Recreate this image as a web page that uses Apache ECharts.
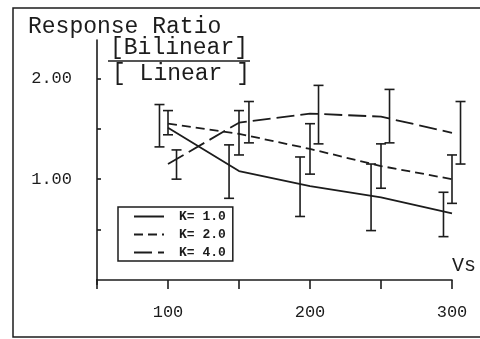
<!DOCTYPE html>
<html>
<head>
<meta charset="utf-8">
<script src="https://cdn.jsdelivr.net/npm/echarts@6/dist/echarts.min.js"></script>
<style>
  html, body { margin: 0; padding: 0; background: #fff; }
  #main { width: 480px; height: 339px; }
</style>
</head>
<body>
<div id="main"></div>
<script>
// Vs values where the curves are drawn
const vs = [100, 150, 200, 250, 300]

// response ratio curves
const k1 = [1.51, 1.08, 0.93, 0.82, 0.66]
const k2 = [1.55, 1.45, 1.30, 1.13, 1.00]
const k4 = [1.15, 1.56, 1.65, 1.62, 1.46]

// error bars (slightly shifted along Vs per curve, as in the plot)
const k1BarX = [94, 143, 193, 243, 294]
const k1Low = [1.32, 0.81, 0.63, 0.49, 0.43]
const k1High = [1.74, 1.34, 1.22, 1.15, 0.87]

const k2BarX = [100, 150, 200, 250, 300]
const k2Low = [1.44, 1.24, 1.05, 0.91, 0.76]
const k2High = [1.68, 1.68, 1.55, 1.35, 1.24]

const k4BarX = [106, 157, 206, 256, 306]
const k4Low = [1.00, 1.36, 1.35, 1.36, 1.15]
const k4High = [1.29, 1.77, 1.93, 1.89, 1.77]

const xLabels = [100, 200, 300]
const yLabels = [1, 2]

const ink = '#1c1c1c'
const mono = '"Liberation Mono", "DejaVu Sans Mono", monospace'

const chart = echarts.init(document.getElementById('main'))

// draws one vertical bar with caps
const errorBar = (params, api) => {
  const top = api.coord([api.value(0), api.value(2)])
  const bot = api.coord([api.value(0), api.value(1)])
  const w = 5
  const style = { stroke: ink, lineWidth: 1.6 }
  return {
    type: 'group',
    children: [
      { type: 'line', shape: { x1: top[0], y1: top[1], x2: bot[0], y2: bot[1] }, style },
      { type: 'line', shape: { x1: top[0] - w, y1: top[1], x2: top[0] + w, y2: top[1] }, style },
      { type: 'line', shape: { x1: bot[0] - w, y1: bot[1], x2: bot[0] + w, y2: bot[1] }, style }
    ]
  }
}

const bars = (xs, lo, hi) => xs.map((x, i) => [x, lo[i], hi[i]])
const pts = ys => vs.map((x, i) => [x, ys[i]])

const option = {
  backgroundColor: '#fff',
  animation: false,
  grid: { left: 97, right: 28, top: 40, bottom: 59 },
  xAxis: {
    type: 'value',
    min: 50,
    max: 300,
    interval: 50,
    offset: 4,
    splitLine: { show: false },
    axisLine: { lineStyle: { color: ink, width: 1.6 } },
    axisTick: { length: 9, lineStyle: { color: ink, width: 1.6 } },
    axisLabel: {
      margin: 20,
      color: ink,
      fontFamily: mono,
      fontSize: 17,
      formatter: v => (xLabels.includes(v) ? String(v) : '')
    }
  },
  yAxis: {
    type: 'value',
    min: 0,
    max: 2.38,
    interval: 0.5,
    splitLine: { show: false },
    axisLine: { show: true, lineStyle: { color: ink, width: 1.6 } },
    axisTick: {
      inside: true,
      length: 4,
      customValues: [0.5, 1, 1.5, 2],
      lineStyle: { color: ink, width: 1.6 }
    },
    axisLabel: {
      margin: 25,
      color: ink,
      fontFamily: mono,
      fontSize: 17,
      customValues: yLabels,
      formatter: v => (yLabels.includes(v) ? v.toFixed(2) : '')
    }
  },
  legend: {
    orient: 'vertical',
    left: 118,
    top: 207,
    padding: [3, 7, 2, 15],
    itemGap: 5,
    itemWidth: 30,
    itemHeight: 12,
    borderColor: ink,
    borderWidth: 1.5,
    borderRadius: 0,
    itemStyle: { opacity: 0 },
    data: ['K= 1.0', 'K= 2.0', 'K= 4.0'],
    textStyle: {
      color: ink,
      fontFamily: mono,
      fontSize: 13,
      fontWeight: 'bold',
      padding: [0, 0, 0, 10]
    }
  },
  graphic: [
    {
      type: 'rect',
      shape: { x: 13, y: 8, width: 480, height: 329 },
      style: { fill: 'none', stroke: ink, lineWidth: 1.5 }
    },
    {
      type: 'text', left: 28, top: 15,
      style: { text: 'Response Ratio', fill: ink, font: '23px ' + mono }
    },
    {
      type: 'text', left: 110, top: 36,
      style: { text: '[Bilinear]', fill: ink, font: '23px ' + mono }
    },
    {
      type: 'line',
      shape: { x1: 108, y1: 61, x2: 250, y2: 61 },
      style: { stroke: ink, lineWidth: 1.5 }
    },
    {
      type: 'text', left: 112, top: 62,
      style: { text: '[ Linear ]', fill: ink, font: '23px ' + mono }
    },
    {
      type: 'line',
      shape: { x1: 97, y1: 279, x2: 97, y2: 285 },
      style: { stroke: ink, lineWidth: 1.6 }
    },
    {
      type: 'text', left: 452, top: 256,
      style: { text: 'Vs', fill: ink, font: '20px ' + mono }
    }
  ],
  series: [
    {
      name: 'K= 1.0', type: 'line', data: pts(k1), symbol: 'none',
      lineStyle: { color: ink, width: 1.8, type: 'solid' },
      itemStyle: { color: ink }
    },
    {
      name: 'K= 2.0', type: 'line', data: pts(k2), symbol: 'none',
      lineStyle: { color: ink, width: 1.8, type: [9, 5] },
      itemStyle: { color: ink }
    },
    {
      name: 'K= 4.0', type: 'line', data: pts(k4), symbol: 'none',
      lineStyle: { color: ink, width: 1.8, type: [18, 6] },
      itemStyle: { color: ink }
    },
    { type: 'custom', renderItem: errorBar, data: bars(k1BarX, k1Low, k1High), clip: false },
    { type: 'custom', renderItem: errorBar, data: bars(k2BarX, k2Low, k2High), clip: false },
    { type: 'custom', renderItem: errorBar, data: bars(k4BarX, k4Low, k4High), clip: false }
  ]
}

chart.setOption(option)
</script>
</body>
</html>
